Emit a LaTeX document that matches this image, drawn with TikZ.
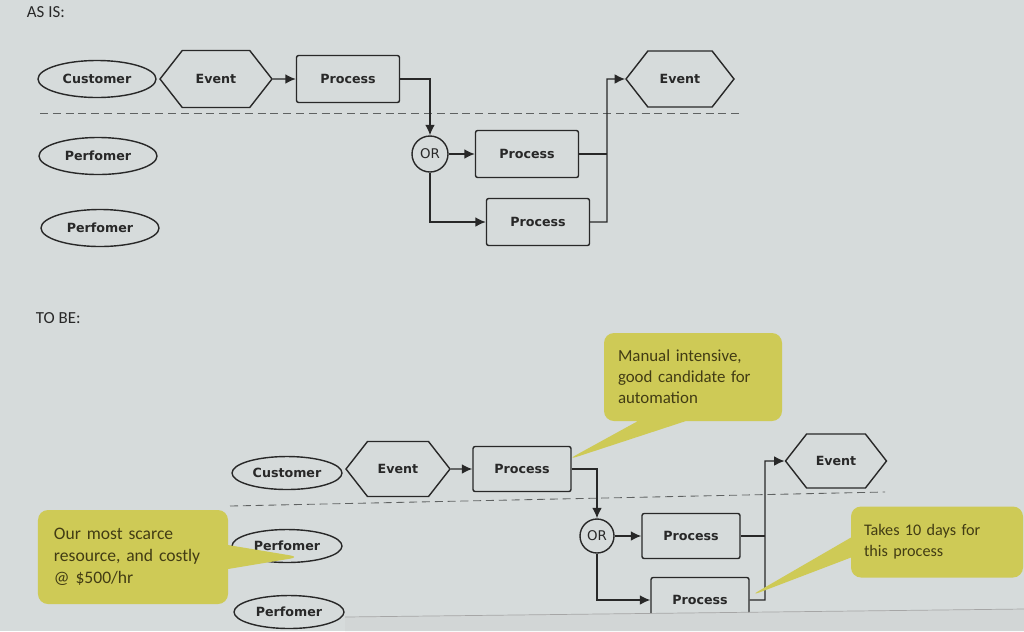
\documentclass[tikz,border=0pt]{standalone}
\usepackage{fontspec}
\usepackage{xcolor}
\usepackage{tikz}
\usetikzlibrary{arrows.meta, positioning, shapes.geometric, shapes.symbols, shapes.callouts}
\newfontfamily\diafont{DejaVu Sans}
\newfontfamily\notefont{Carlito}
\definecolor{screen}{RGB}{214,219,219}
\definecolor{strip}{RGB}{210,214,214}
\definecolor{ink}{RGB}{40,40,40}
\definecolor{lanegray}{RGB}{95,98,98}
\definecolor{noteyellow}{RGB}{206,202,86}
\definecolor{noteink}{RGB}{66,60,20}
\tikzset{
  >={Latex[length=2.6mm,width=2.4mm]},
  % elementi del diagramma
  actor/.style={ellipse,draw=ink,line width=1pt,minimum width=29.5mm,minimum height=9.25mm,inner sep=0pt,
    font=\diafont\bfseries\fontsize{9}{11}\selectfont,text=ink},
  event/.style={signal,signal from=nowhere,signal to=west and east,signal pointer angle=104,draw=ink,line width=1pt,
    minimum width=28mm,minimum height=14.25mm,inner sep=0pt,font=\diafont\bfseries\fontsize{9}{11}\selectfont,text=ink},
  proc/.style={rectangle,rounded corners=1.5pt,draw=ink,line width=1pt,minimum width=25.75mm,minimum height=11.75mm,
    inner sep=0pt,font=\diafont\bfseries\fontsize{9}{11}\selectfont,text=ink},
  gate/.style={circle,draw=ink,line width=1pt,minimum size=9mm,inner sep=0pt,
    font=\diafont\fontsize{9.5}{11}\selectfont,text=ink},
  % connessioni
  link/.style={draw=ink,line width=1pt},
  flow/.style={link,->},
  lane/.style={draw=lanegray,line width=0.6pt,dash pattern=on 2mm off 1.2mm},
  % note gialle
  note/.style={rectangle callout,fill=noteyellow,rounded corners=2.5mm,align=left,text=noteink},
  caption/.style={anchor=west,font=\notefont\fontsize{12}{14}\selectfont,text=ink}
}
\begin{document}
\begin{tikzpicture}[x=0.25mm,y=-0.25mm]
  \useasboundingbox (0,0) rectangle (1024,631);
  \fill[screen] (0,0) rectangle (1024,631);

  % AS IS
  \node[caption] (asis) at (22,12) {AS IS:};
  \node[actor] (cust1) at (97,79) {Customer};
  \node[actor] (perf1a) at (98,156) {Perfomer};
  \node[actor] (perf1b) at (100,228) {Perfomer};
  \node[event] (ev1a) at (216,79) {Event};
  \node[proc] (pr1a) at (348,79) {Process};
  \node[gate] (or1) at (430,154) {OR};
  \node[proc] (pr1b) at (527,154) {Process};
  \node[proc] (pr1c) at (538,222) {Process};
  \node[event,minimum width=27mm,minimum height=14mm] (ev1b) at (680,79) {Event};
  \coordinate (j1) at (607,79);
  \draw[lane] (40,113) -- (740,113);
  \draw[flow] (ev1a.0) -- (pr1a.west);
  \draw[flow] (pr1a.east) -| (or1.north);
  \draw[flow] (or1.east) -- (pr1b.west);
  \draw[flow] (or1.south) |- (pr1c.west);
  \draw[link] (pr1b.east) -- (pr1b.east -| j1);
  \draw[flow] (pr1c.east) -| (j1) -- (ev1b.180);

  % TO BE
  \node[caption] (tobe) at (31,318) {TO BE:};
  \begin{scope}[actor/.append style={minimum width=27.5mm,minimum height=8.25mm},
      event/.append style={minimum width=26mm,minimum height=13.75mm},
      proc/.append style={minimum width=24.5mm,minimum height=11.25mm},
      gate/.append style={minimum size=8.5mm}]
    \node[actor] (cust2) at (287,473) {Customer};
    \node[actor] (perf2a) at (287,546) {Perfomer};
    \node[actor] (perf2b) at (289,612) {Perfomer};
    \node[event] (ev2a) at (398,469) {Event};
    \node[proc] (pr2a) at (522,469) {Process};
    \node[gate] (or2) at (597,536) {OR};
    \node[proc] (pr2b) at (691,536) {Process};
    \node[proc] (pr2c) at (700,600) {Process};
    \node[event,minimum width=25.25mm,minimum height=13.5mm] (ev2b) at (836,461) {Event};
  \end{scope}
  \coordinate (j2) at (765,461);
  \draw[lane] (230,506) -- (885,492);
  \draw[flow] (ev2a.0) -- (pr2a.west);
  \draw[flow] (pr2a.east) -| (or2.north);
  \draw[flow] (or2.east) -- (pr2b.west);
  \draw[flow] (or2.south) |- (pr2c.west);
  \draw[link] (pr2b.east) -- (pr2b.east -| j2);
  \draw[flow] (pr2c.east) -| (j2) -- (ev2b.180);

  % bordo inferiore della pagina
  \fill[strip] (345,617) -- (1024,609) -- (1024,631) -- (345,631) -- cycle;
  \draw[gray!70,line width=0.5pt] (345,617) -- (1024,609);

  % note
  \coordinate (tipA) at (567,460);
  \coordinate (tipB) at (300,557);
  \coordinate (tipC) at (750,596);
  \node[note,callout absolute pointer=(tipA),callout pointer width=12mm,text width=37.5mm,minimum height=22mm,
    inner xsep=3.5mm,font=\notefont\fontsize{12}{15}\selectfont] (noteA) at (693,377)
    {Manual intensive,\\good candidate for\\automation};
  \node[note,callout absolute pointer=(tipB),callout pointer width=6mm,text width=39.5mm,minimum height=23.5mm,
    inner xsep=4mm,font=\notefont\fontsize{12.5}{15.5}\selectfont] (noteB) at (133,557)
    {Our most scarce\\resource, and costly\\@ \$500/hr};
  \node[note,callout absolute pointer=(tipC),callout pointer width=5mm,text width=36.5mm,minimum height=17.75mm,
    inner xsep=3.25mm,font=\notefont\fontsize{11.5}{15}\selectfont] (noteC) at (937,542)
    {Takes 10 days for\\this process};
\end{tikzpicture}
\end{document}
